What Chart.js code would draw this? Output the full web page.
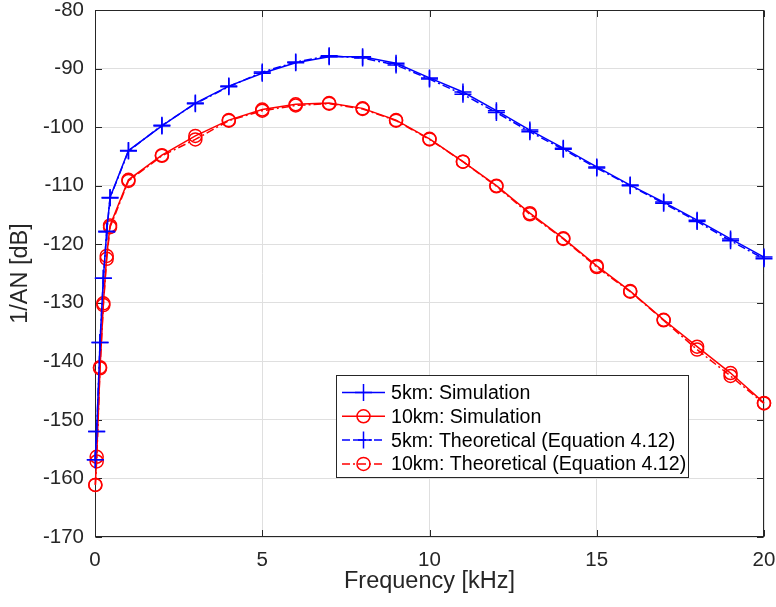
<!DOCTYPE html>
<html>
<head>
<meta charset="utf-8">
<script src="https://cdn.jsdelivr.net/npm/chart.js@4.4.1/dist/chart.umd.min.js"></script>
<style>
  body { margin: 0; background: #fff; }
</style>
</head>
<body>
<canvas id="chart" width="776" height="607"></canvas>
<script>
// frequency points (kHz)
var freqKHz = [0.01, 0.05, 0.15, 0.25, 0.35, 0.45, 1, 2, 3, 4, 5, 6, 7, 8, 9, 10, 11, 12, 13, 14, 15, 16, 17, 18, 19, 20];

// 1/AN in dB
var sim5km = [-156.8, -152.0, -136.8, -125.8, -117.8, -112.0, -104.0, -99.8, -95.9, -93.0, -90.8, -89.0, -88.0, -88.0, -89.1, -91.6, -94.0, -97.2, -100.5, -103.6, -106.8, -109.9, -112.8, -115.9, -119.1, -122.2];
var sim10km = [-161.1, -156.3, -141.2, -130.1, -122.0, -116.8, -109.0, -104.8, -101.5, -98.8, -97.0, -96.1, -95.9, -96.8, -98.8, -102.0, -105.9, -110.0, -114.7, -119.0, -123.7, -128.0, -132.9, -137.5, -142.0, -147.1];
var theory5km = [-156.8, -152.0, -136.8, -125.8, -117.9, -112.1, -104.1, -99.7, -96.0, -93.1, -90.6, -88.9, -87.8, -88.2, -89.4, -91.8, -94.4, -97.5, -100.8, -103.8, -107.0, -110.0, -113.0, -116.1, -119.4, -122.5];
var theory10km = [-161.1, -157.1, -141.0, -130.4, -122.5, -117.1, -109.2, -104.9, -102.1, -98.9, -97.2, -96.3, -96.0, -96.9, -98.9, -102.1, -105.9, -110.1, -114.9, -119.1, -123.9, -128.1, -133.0, -138.0, -142.5, -147.2];

var seriesLabels = ['5km: Simulation', '10km: Simulation', '5km: Theoretical (Equation 4.12)', '10km: Theoretical (Equation 4.12)'];
var xTicks = [0, 5, 10, 15, 20];
var yTicks = [-170, -160, -150, -140, -130, -120, -110, -100, -90, -80];

function pts(ys) {
  return freqKHz.map(function (f, i) { return { x: f, y: ys[i] }; });
}

var BLUE = '#0000ff', RED = '#ff0000', AXIS = '#262626';
var DASHDOT = [8, 3, 2, 3];

function makeSet(label, ys, color, marker, dash) {
  return {
    label: label,
    data: pts(ys),
    borderColor: color,
    borderWidth: 1.5,
    borderDash: dash,
    backgroundColor: 'transparent',
    pointStyle: marker,
    pointRadius: marker == 'cross' ? 8.5 : 6.5,
    pointBorderWidth: 1.5,
    pointBorderColor: color,
    pointBackgroundColor: 'transparent',
    tension: 0,
    clip: false
  };
}

function drawMarker(ctx, style, x, y) {
  ctx.beginPath();
  if (style == 'cross') {
    ctx.moveTo(x - 8.5, y); ctx.lineTo(x + 8.5, y);
    ctx.moveTo(x, y - 8.5); ctx.lineTo(x, y + 8.5);
  } else {
    ctx.arc(x, y, 6.5, 0, Math.PI * 2);
  }
  ctx.stroke();
}

var frameAndLegend = {
  id: 'frameAndLegend',
  beforeDatasetsDraw: function (chart) {
    var ctx = chart.ctx, a = chart.chartArea;
    var xs = chart.scales.x, ys = chart.scales.y;
    var L = Math.round(a.left) + 0.5, R = Math.round(a.right) - 0.5;
    var T = Math.round(a.top) + 0.5, B = Math.round(a.bottom) - 0.5;
    ctx.save();
    ctx.strokeStyle = AXIS;
    ctx.lineWidth = 1;
    ctx.beginPath();
    xTicks.forEach(function (v) {
      var px = Math.round(xs.getPixelForValue(v)) + 0.5;
      ctx.moveTo(px, B); ctx.lineTo(px, B - 6.5);
      ctx.moveTo(px, T); ctx.lineTo(px, T + 6.5);
    });
    yTicks.forEach(function (v) {
      var py = Math.round(ys.getPixelForValue(v)) + 0.5;
      ctx.moveTo(L, py); ctx.lineTo(L + 6.5, py);
      ctx.moveTo(R, py); ctx.lineTo(R - 6.5, py);
    });
    ctx.stroke();
    ctx.strokeRect(L, T, R - L, B - T);
    ctx.restore();
  },
  afterDraw: function (chart) {
    var ctx = chart.ctx;
    var box = { x: 336.5, y: 375.5, w: 352, h: 102 };
    ctx.save();
    ctx.fillStyle = '#ffffff';
    ctx.fillRect(box.x, box.y, box.w, box.h);
    ctx.strokeStyle = AXIS;
    ctx.lineWidth = 1;
    ctx.strokeRect(box.x, box.y, box.w, box.h);
    ctx.font = '19.6px "Liberation Sans", Arial, sans-serif';
    ctx.textBaseline = 'middle';
    ctx.textAlign = 'left';
    chart.data.datasets.forEach(function (ds, i) {
      var y = 392.5 + i * 23.8;
      ctx.strokeStyle = ds.borderColor;
      ctx.lineWidth = 1.5;
      ctx.setLineDash(ds.borderDash || []);
      ctx.beginPath();
      ctx.moveTo(342, y); ctx.lineTo(385, y);
      ctx.stroke();
      ctx.setLineDash([]);
      drawMarker(ctx, ds.pointStyle, 363.5, y);
      ctx.fillStyle = '#000000';
      ctx.fillText(ds.label, 391, y + 1);
    });
    ctx.restore();
  }
};

Chart.defaults.font.family = '"Liberation Sans", Arial, sans-serif';
Chart.defaults.color = AXIS;

var chart = new Chart(document.getElementById('chart'), {
  type: 'line',
  data: {
    datasets: [
      makeSet(seriesLabels[0], sim5km, BLUE, 'cross', []),
      makeSet(seriesLabels[1], sim10km, RED, 'circle', []),
      makeSet(seriesLabels[2], theory5km, BLUE, 'cross', DASHDOT),
      makeSet(seriesLabels[3], theory10km, RED, 'circle', DASHDOT)
    ]
  },
  options: {
    responsive: false,
    animation: false,
    events: [],
    layout: { padding: { top: 9, right: 12, left: 0, bottom: 0 } },
    plugins: {
      legend: { display: false },
      tooltip: { enabled: false }
    },
    scales: {
      x: {
        type: 'linear',
        min: 0, max: 20,
        afterBuildTicks: function (s) { s.ticks = xTicks.map(function (v) { return { value: v }; }); },
        afterFit: function (s) { s.height = 70; s.paddingLeft = 0; s.paddingRight = 0; },
        grid: { color: '#dfdfdf', lineWidth: 1, drawTicks: false },
        border: { display: false },
        ticks: { padding: 11, font: { size: 20.5 }, maxRotation: 0 },
        title: { display: true, text: 'Frequency [kHz]', font: { size: 23.5 }, padding: { top: 0, bottom: 11.5 } }
      },
      y: {
        type: 'linear',
        min: -170, max: -80,
        afterBuildTicks: function (s) { s.ticks = yTicks.map(function (v) { return { value: v }; }); },
        afterFit: function (s) { s.width = 95; s.paddingTop = 0; s.paddingBottom = 0; },
        grid: { color: '#dfdfdf', lineWidth: 1, drawTicks: false },
        border: { display: false },
        ticks: { padding: 11, font: { size: 20.5 } },
        title: { display: true, text: '1/AN [dB]', font: { size: 23.5 }, padding: { top: 6, bottom: 0 } }
      }
    }
  },
  plugins: [frameAndLegend]
});
</script>
</body>
</html>
